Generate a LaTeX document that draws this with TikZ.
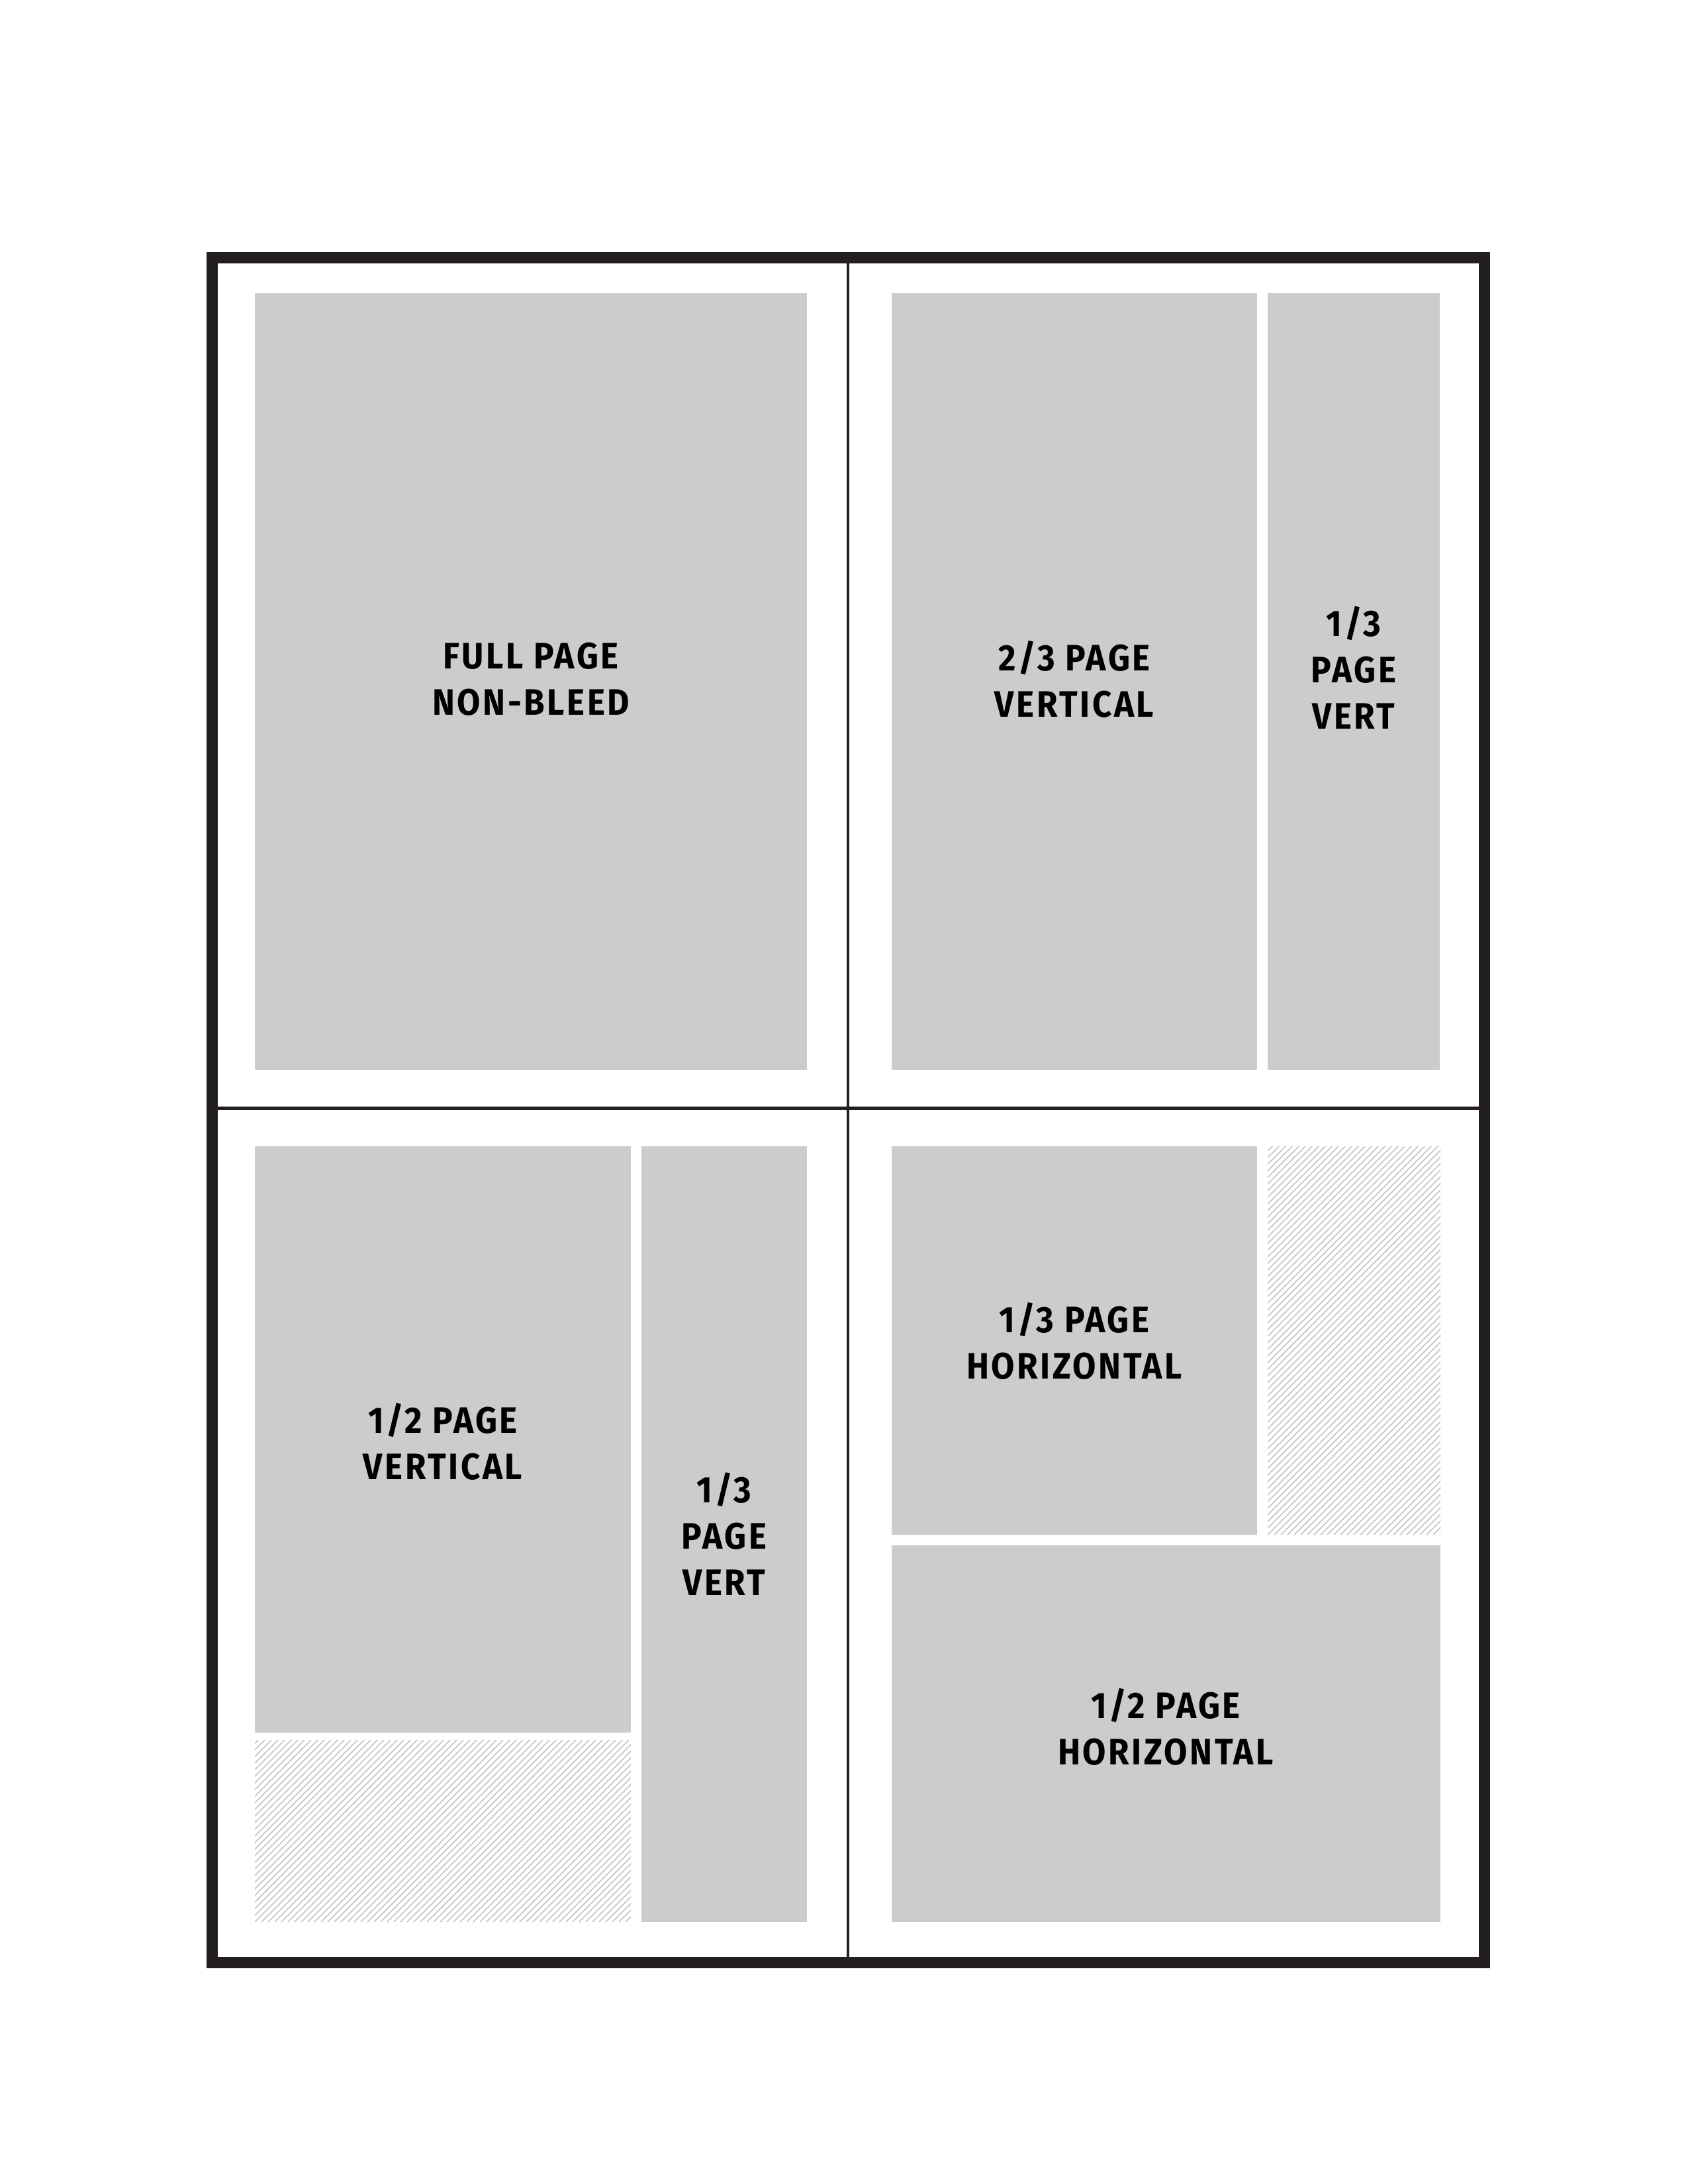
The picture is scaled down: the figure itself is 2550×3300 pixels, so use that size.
\documentclass[tikz,border=0pt]{standalone}
\usepackage{fontspec}
\newfontfamily\adfont{Fira Sans}[UprightFont=* Bold, FakeStretch=0.92, LetterSpace=6.5]
\definecolor{adgray}{HTML}{CCCCCC}
\definecolor{hatchgray}{HTML}{BDBDBD}
\definecolor{framegray}{HTML}{231F20}
\tikzset{
    adbox/.style={fill=adgray},
    adlabel/.style={font=\adfont\fontsize{13.4}{16.9}\selectfont, align=center, text=black},
    hatchline/.style={draw=hatchgray, line width=0.35pt},
}
\begin{document}
\begin{tikzpicture}[x=0.2409pt, y=-0.2409pt]
                % Seitenformat (Pixel, y nach unten)
                \def\px{0.2409pt}
                \useasboundingbox (0,0) rectangle (2550,3300);

                % Anzeigenflächen oben
                \fill[adbox] (385, 443) rectangle (1219, 1617);
                \fill[adbox] (1347, 443) rectangle (1899, 1617);
                \fill[adbox] (1915, 443) rectangle (2175, 1617);

                % Anzeigenflächen unten
                \fill[adbox] (385, 1732) rectangle (953, 2618);
                \fill[adbox] (969, 1732) rectangle (1219, 2904);
                \fill[adbox] (1347, 1732) rectangle (1899, 2319);
                \fill[adbox] (1347, 2335) rectangle (2176, 2904);

                % Schraffur (frei)
                \begin{scope}
                    \clip (385, 2629) rectangle (953, 2904);
                    \foreach \k in {-600,-590,...,600} {
                        \draw[hatchline] (385+\k, 2904) -- ++(600, -600);
                    }
                \end{scope}
                \begin{scope}
                    \clip (1915, 1732) rectangle (2176, 2319);
                    \foreach \k in {-600,-590,...,300} {
                        \draw[hatchline] (1915+\k, 2319) -- ++(600, -600);
                    }
                \end{scope}

                % Rahmen und Trennlinien
                \draw[framegray, line width=17*\px] (320.5, 389.5) rectangle (2242.5, 2965.5);
                \draw[framegray, line width=4*\px] (1281, 398) -- (1281, 2957);
                \draw[framegray, line width=5*\px] (329, 1674.5) -- (2234, 1674.5);

                % Beschriftungen
                \node[adlabel] (fullpage) at (802, 1026) {FULL PAGE\\NON-BLEED};
                \node[adlabel] (twothirdvert) at (1623, 1026) {2/3 PAGE\\VERTICAL};
                \node[adlabel] (thirdverttop) at (2045, 1009) {1/3\\PAGE\\VERT};
                \node[adlabel] (halfvert) at (669, 2178) {1/2 PAGE\\VERTICAL};
                \node[adlabel] (thirdvertbot) at (1094, 2318) {1/3\\PAGE\\VERT};
                \node[adlabel] (thirdhoriz) at (1623, 2026) {1/3 PAGE\\HORIZONTAL};
                \node[adlabel] (halfhoriz) at (1761, 2609) {1/2 PAGE\\HORIZONTAL};
\end{tikzpicture}
\end{document}
